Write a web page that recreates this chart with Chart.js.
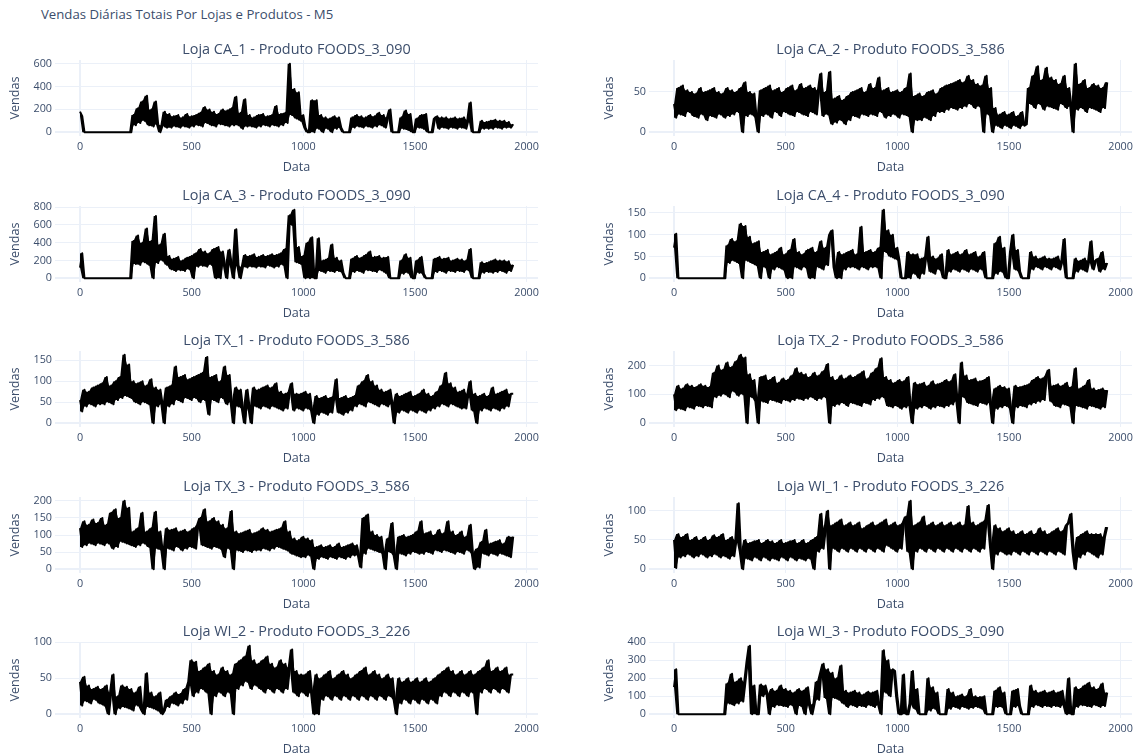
<!DOCTYPE html>
<html>
<head>
<meta charset="utf-8">
<script src="https://cdn.jsdelivr.net/npm/chart.js@4.4.1/dist/chart.umd.min.js"></script>
<style>
body{margin:0;background:#fff;width:1133px;height:756px;overflow:hidden;position:relative;font-family:"Open Sans",sans-serif}
#titulo{position:absolute;left:41px;top:5px;font-size:13.2px;color:#3b4d6b;white-space:nowrap}
canvas{position:absolute}
</style>
</head>
<body>
<div id="titulo">Vendas Diárias Totais Por Lojas e Produtos - M5</div>
<script>

// dias 0..1940, um ponto a cada 10 dias (picos e vales)
let dias = [];
for (let d = 0; d <= 1940; d += 10) dias.push(d);

let ticksX = [0, 500, 1000, 1500, 2000];

let vendasCA1 = [
180,140,0,0,0,0,0,0,0,0,
0,0,0,0,0,0,0,0,0,0,
0,0,0,0,150,60,210,80,270,100,
320,60,200,50,270,70,0,60,180,40,
160,40,140,50,150,40,130,50,160,40,
140,50,150,60,170,50,220,80,200,60,
180,50,160,70,200,60,190,50,210,60,
310,60,170,30,290,50,150,50,130,40,
150,50,160,60,140,50,150,60,230,50,
160,60,170,80,600,150,380,120,350,100,
150,40,0,0,280,0,280,30,150,0,
130,30,120,0,140,30,130,40,0,0,
0,0,130,40,150,50,140,40,130,50,
150,40,140,50,170,60,150,40,130,200,
0,0,0,0,130,30,190,20,160,0,
0,120,40,150,30,160,0,0,0,120,
140,30,130,40,130,30,120,40,130,30,
120,40,130,30,110,260,0,0,0,0,
100,30,90,30,100,30,110,40,100,30,
100,40,90,40,70];

let vendasCA2 = [
35,18,55,22,58,20,52,25,50,20,
48,18,55,22,50,15,52,20,55,18,
50,22,48,18,55,20,52,22,50,25,
55,0,62,20,50,22,48,18,0,52,
20,55,22,58,18,52,25,55,20,50,
25,55,22,58,20,52,25,60,22,55,
20,58,25,55,22,52,73,20,50,22,
75,10,42,12,45,15,40,10,45,15,
50,20,52,18,55,22,50,20,60,22,
55,20,68,25,52,18,55,20,50,22,
52,18,50,22,55,20,73,0,45,15,
48,15,45,18,50,15,52,20,48,25,
55,25,58,28,60,30,62,28,65,30,
62,32,70,35,65,30,60,32,58,0,
70,22,55,0,30,8,22,5,25,8,
22,5,25,8,20,5,25,8,10,55,
35,70,30,82,35,65,28,80,32,68,
30,65,28,60,35,70,30,55,32,0,
85,28,60,30,65,25,55,30,60,28,
58,25,55,30,62];

let vendasCA3 = [
120,280,0,0,0,0,0,0,0,0,
0,0,0,0,0,0,0,0,0,0,
0,0,0,0,420,160,480,150,400,180,
560,150,420,0,700,170,380,200,500,150,
250,100,220,80,240,90,200,80,230,100,
250,0,280,130,330,140,300,130,280,150,
330,0,350,0,300,140,0,320,150,0,
550,140,0,130,260,120,250,130,270,120,
240,130,260,120,250,140,270,120,260,130,
280,150,330,0,710,600,770,180,350,160,
250,0,400,0,460,0,0,450,80,200,
60,220,80,380,70,230,80,200,60,0,
0,0,220,70,250,80,230,60,260,90,
300,80,240,70,250,90,230,60,240,0,
0,0,0,0,200,50,270,60,230,0,
0,200,60,240,50,0,0,0,0,220,
70,240,80,220,60,230,80,200,70,220,
80,210,70,200,90,330,0,0,0,0,
180,60,170,70,190,60,210,70,200,80,
200,60,190,80,150];

let vendasCA4 = [
70,102,0,0,0,0,0,0,0,0,
0,0,0,0,0,0,0,0,0,0,
0,0,0,0,75,35,90,40,85,35,
125,0,120,40,95,35,80,30,85,0,
60,25,65,0,55,20,60,25,70,20,
55,0,65,0,90,25,60,20,55,25,
65,0,70,0,60,25,85,20,70,30,
100,110,25,0,60,0,55,20,60,25,
65,25,55,20,118,25,60,20,65,25,
60,25,70,0,157,60,110,50,100,45,
70,40,0,0,0,60,0,55,10,55,
0,45,10,50,95,15,50,10,45,20,
55,0,0,65,15,55,20,60,15,55,
20,65,15,55,20,60,15,50,20,60,
0,0,0,0,80,10,95,15,70,0,
0,60,100,20,65,15,0,0,0,0,
60,20,50,25,45,20,50,25,45,20,
45,25,50,20,40,90,0,0,0,0,
45,15,40,20,45,15,40,85,20,40,
45,15,60,20,35];

let vendasTX1 = [
55,28,80,40,75,45,85,40,90,45,
95,45,110,50,90,45,100,55,110,60,
163,65,140,60,100,50,95,45,100,50,
90,45,105,0,85,40,80,45,0,85,
40,90,45,135,55,110,50,115,60,105,
55,110,60,115,50,120,55,158,20,110,
55,115,50,100,60,135,45,115,50,0,
85,40,80,35,0,80,35,0,85,40,
80,35,85,40,90,35,85,40,95,35,
75,30,70,35,75,95,30,70,35,70,
30,75,35,70,30,0,65,20,60,25,
65,20,60,25,65,105,25,60,20,65,
25,60,30,65,40,90,45,100,40,115,
50,100,45,90,40,80,45,75,40,80,
45,0,70,25,65,30,70,25,75,30,
65,25,70,30,80,25,70,30,65,35,
75,40,90,45,120,40,95,45,85,40,
75,35,80,35,70,100,30,70,0,65,
30,70,35,65,30,85,35,70,30,75,
35,80,40,70,70];

let vendasTX2 = [
100,45,130,50,120,45,135,55,130,50,
125,60,135,55,130,60,125,55,175,90,
200,95,185,100,210,90,195,110,215,95,
237,100,228,0,170,90,150,75,0,160,
75,165,70,150,80,160,75,140,70,155,
80,150,75,165,80,190,85,175,80,170,
85,160,90,175,80,165,85,180,90,205,
0,160,60,150,65,165,70,155,60,165,
70,160,65,170,60,180,70,155,65,175,
80,190,85,225,90,160,60,150,55,140,
60,150,50,145,55,160,60,0,140,50,
135,55,140,60,130,50,145,55,135,60,
140,55,150,60,145,65,170,75,0,210,
90,165,70,150,65,155,60,145,70,150,
65,160,70,0,120,50,130,55,125,60,
120,50,0,130,55,125,60,130,55,135,
65,150,70,160,75,155,80,165,185,75,
130,60,135,55,130,65,140,60,125,0,
190,60,120,55,130,50,150,60,120,55,
115,50,120,55,115];

let vendasTX3 = [
120,65,140,70,130,75,145,70,135,75,
150,70,130,75,165,60,175,65,150,80,
200,75,180,70,110,65,120,70,165,75,
110,65,120,0,168,60,110,55,0,120,
60,115,55,120,65,110,55,115,60,110,
65,120,60,130,150,70,175,65,140,60,
150,65,140,60,130,35,120,60,170,0,
110,55,105,50,110,55,115,50,105,55,
110,55,120,60,115,55,110,60,115,65,
120,60,140,55,110,45,90,40,85,35,
95,35,90,40,85,0,65,30,70,35,
65,30,70,35,65,30,75,35,65,30,
70,35,75,40,70,40,5,150,45,160,
60,110,55,100,50,95,45,0,90,50,
135,40,0,95,45,100,40,95,45,100,
50,110,45,140,45,105,50,110,45,100,
55,115,50,105,55,140,50,110,45,100,
50,110,45,95,55,130,45,0,60,5,
80,45,115,40,75,45,80,40,85,45,
75,40,95,35,95];

let vendasWI1 = [
50,2,60,20,55,22,60,25,50,20,
55,22,50,25,55,20,50,22,58,25,
55,20,60,22,50,18,55,22,50,113,
30,0,50,18,45,15,48,20,50,15,
45,20,50,15,48,18,45,15,50,20,
45,15,48,20,50,15,45,18,50,15,
45,18,50,0,55,30,95,35,70,100,
0,75,35,80,30,85,35,75,30,80,
35,75,30,80,35,70,30,75,35,80,
30,75,35,80,30,85,40,75,35,80,
30,75,35,80,90,30,117,0,75,30,
80,35,90,30,75,35,80,30,75,35,
80,30,75,35,80,30,75,35,80,30,
75,35,108,30,80,35,75,30,80,35,
85,110,40,0,75,25,70,30,65,25,
70,25,65,30,60,25,65,30,60,25,
65,30,60,25,70,30,65,25,60,30,
65,25,70,30,65,25,75,80,95,30,
0,55,20,60,25,65,30,60,25,60,
20,60,25,55,72];

let vendasWI2 = [
45,12,52,18,40,15,35,20,38,15,
35,12,40,0,30,55,0,25,8,40,
10,38,8,35,5,30,12,38,5,0,
57,10,30,8,25,5,30,0,5,20,
10,25,15,30,12,28,15,35,20,45,
75,25,73,30,60,35,65,30,70,0,
60,25,55,30,65,25,60,30,55,0,
70,35,75,40,80,45,95,35,75,40,
70,35,75,30,80,35,70,30,65,35,
75,30,70,35,65,90,30,60,25,55,
30,55,25,60,30,0,55,0,50,20,
55,25,60,20,50,25,55,20,60,25,
55,20,50,25,55,20,60,25,65,20,
55,25,60,20,55,25,50,20,55,25,
50,20,0,50,15,45,20,50,15,45,
20,50,15,45,20,50,15,45,20,50,
15,55,25,60,30,65,25,60,30,55,
25,60,30,55,25,60,30,55,0,60,
30,65,35,75,30,60,35,65,30,60,
35,65,30,55,55];

let vendasWI3 = [
150,250,0,0,0,0,0,0,0,0,
0,0,0,0,0,0,0,0,0,0,
0,0,0,0,170,60,225,50,180,60,
200,70,180,290,380,0,160,0,0,165,
100,160,110,0,140,40,130,50,160,45,
140,40,130,50,120,0,140,45,130,0,
150,50,0,60,180,80,230,280,90,250,
0,230,90,200,80,270,60,130,40,120,
50,130,40,120,45,110,40,125,50,120,
40,130,50,0,355,120,300,100,250,240,
100,0,0,220,0,0,60,240,30,140,
0,0,0,0,200,20,150,30,120,0,
0,0,0,140,30,120,40,100,30,110,
40,100,30,140,35,100,40,95,30,100,
0,0,0,0,130,40,150,40,120,0,
0,0,130,40,140,45,0,0,0,0,
160,40,130,50,120,40,130,45,120,40,
130,45,120,40,130,50,0,200,0,0,
150,40,140,50,160,45,175,40,150,50,
140,40,170,45,120];

let ticksCA1 = [0, 200, 400, 600];
let ticksCA2 = [0, 50];
let ticksCA3 = [0, 200, 400, 600, 800];
let ticksCA4 = [0, 50, 100, 150];
let ticksTX1 = [0, 50, 100, 150];
let ticksTX2 = [0, 100, 200];
let ticksTX3 = [0, 50, 100, 150, 200];
let ticksWI1 = [0, 50, 100];
let ticksWI2 = [0, 50, 100];
let ticksWI3 = [0, 100, 200, 300, 400];

let lojas = [
{titulo:"Loja CA_1 - Produto FOODS_3_090", valores:vendasCA1, ticks:ticksCA1},
{titulo:"Loja CA_2 - Produto FOODS_3_586", valores:vendasCA2, ticks:ticksCA2},
{titulo:"Loja CA_3 - Produto FOODS_3_090", valores:vendasCA3, ticks:ticksCA3},
{titulo:"Loja CA_4 - Produto FOODS_3_090", valores:vendasCA4, ticks:ticksCA4},
{titulo:"Loja TX_1 - Produto FOODS_3_586", valores:vendasTX1, ticks:ticksTX1},
{titulo:"Loja TX_2 - Produto FOODS_3_586", valores:vendasTX2, ticks:ticksTX2},
{titulo:"Loja TX_3 - Produto FOODS_3_586", valores:vendasTX3, ticks:ticksTX3},
{titulo:"Loja WI_1 - Produto FOODS_3_226", valores:vendasWI1, ticks:ticksWI1},
{titulo:"Loja WI_2 - Produto FOODS_3_226", valores:vendasWI2, ticks:ticksWI2},
{titulo:"Loja WI_3 - Produto FOODS_3_090", valores:vendasWI3, ticks:ticksWI3}
];

let topos = [40, 186, 331, 477, 622];
let texto = "#3b4d6b";
let grade = "#EBF0F8";

function larguraGrade(c){
  return c.tick && c.tick.value === 0 ? 2 : 1;
}

// titulo de cada subplot centrado sobre a area do grafico
let tituloSubplot = {
  id:'tituloSubplot',
  afterDraw(chart, args, opts){
    let ctx = chart.ctx, a = chart.chartArea;
    ctx.save();
    ctx.font = "14.4px 'Open Sans'";
    ctx.fillStyle = texto;
    ctx.textAlign = "center";
    ctx.textBaseline = "middle";
    ctx.fillText(opts.text, (a.left + a.right) / 2, a.top - 10);
    ctx.restore();
  }
};

lojas.forEach((loja, i) => {

let col = i % 2;
let row = Math.floor(i / 2);

let canvas = document.createElement("canvas");
canvas.width = 546;
canvas.height = 135;
canvas.style.left = (col ? 594 : 0) + "px";
canvas.style.top = topos[row] + "px";
document.body.appendChild(canvas);

let v = loja.valores;
let maior = Math.max(...v);
let ymin = -maior * 0.0556;
let ymax = maior * 1.0556;

// faixa entre pontos vizinhos, para a serie diaria densa parecer preenchida
let k2 = k => Math.min(k + 1, v.length - 1);
let faixaAlta = dias.map((d,k)=>({x:d, y:Math.max(v[k], v[k2(k)])}));
let faixaBaixa = dias.map((d,k)=>({x:d, y:Math.min(v[k], v[k2(k)])}));

new Chart(canvas, {
  type:'line',
  data:{
    datasets:[
      {data:faixaAlta, borderWidth:0, pointRadius:0, tension:0, fill:'+1', backgroundColor:"#000"},
      {data:faixaBaixa, borderWidth:0, pointRadius:0, tension:0, fill:false},
      {
        data:dias.map((d,k)=>({x:d, y:v[k]})),
        borderColor:"#000",
        borderWidth:2,
        borderJoinStyle:"round",
        pointRadius:0,
        tension:0,
        fill:false
      }
    ]
  },
  plugins:[tituloSubplot],
  options:{
    responsive:false,
    animation:false,
    devicePixelRatio:1,
    layout:{padding:{left:0, right:8, top:20, bottom:0}},
    plugins:{
      legend:{display:false},
      tooltip:{enabled:false},
      title:{display:false},
      filler:{propagate:false},
      tituloSubplot:{text:loja.titulo}
    },
    scales:{
      x:{
        type:'linear', min:-112, max:2051,
        afterBuildTicks:a=>{ a.ticks = ticksX.map(t=>({value:t})); },
        afterFit:a=>{ a.height = 39; },
        ticks:{color:texto, font:{family:"Open Sans", size:10.8}, padding:4, maxRotation:0, callback:t=>String(t)},
        grid:{color:grade, lineWidth:larguraGrade, drawTicks:false},
        border:{display:false},
        title:{display:true, text:"Data", color:texto, font:{family:"Open Sans", size:12.6}, padding:{top:0, bottom:0}}
      },
      y:{
        min:ymin, max:ymax,
        afterBuildTicks:a=>{ a.ticks = loja.ticks.filter(t=>t>=ymin && t<=ymax).map(t=>({value:t})); },
        afterFit:a=>{ a.width = 55; },
        ticks:{color:texto, font:{family:"Open Sans", size:10.8}, padding:3, callback:t=>String(t)},
        grid:{color:grade, lineWidth:larguraGrade, drawTicks:false},
        border:{display:false},
        title:{display:true, text:"Vendas", color:texto, font:{family:"Open Sans", size:12.6}, padding:{top:7.5, bottom:0}}
      }
    }
  }
});

});

</script>
</body>
</html>
